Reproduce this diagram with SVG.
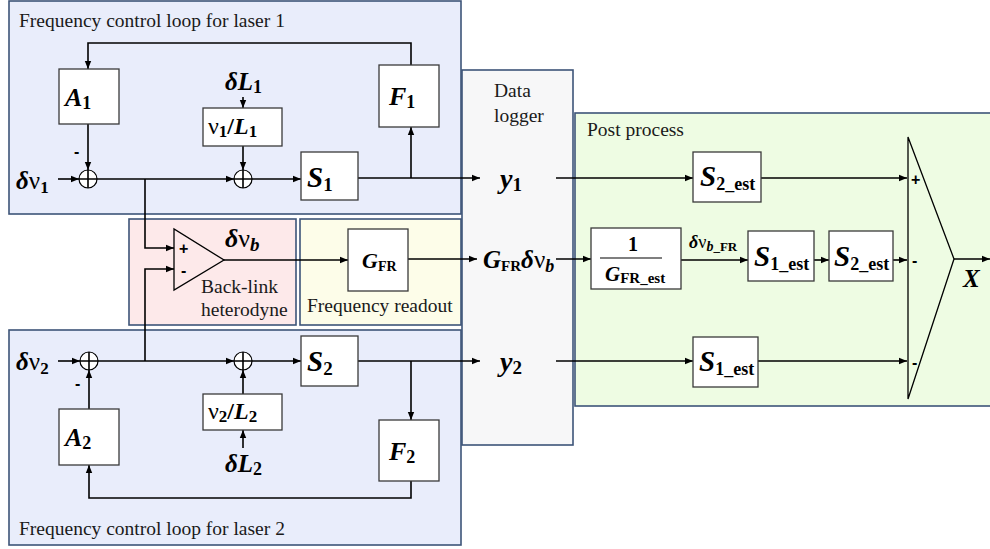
<svg xmlns="http://www.w3.org/2000/svg" width="990" height="549" viewBox="0 0 990 549">
  <defs>
    <marker id="arr" viewBox="0 0 10 10" refX="10" refY="5" markerWidth="8" markerHeight="8" markerUnits="userSpaceOnUse" orient="auto">
      <path d="M0,1 L10,5 L0,9 Z" fill="#000"/>
    </marker>
    <style>
      .panel { stroke: #3d5478; stroke-width: 1.6; }
      .laser { fill: #e9edfb; }
      .het { fill: #fde9ea; }
      .fr { fill: #fdfde9; }
      .log { fill: #f7f7f8; }
      .post { fill: #eefce3; }
      .blk { fill: #ffffff; stroke: #3a3a3a; stroke-width: 1.3; }
      .wire { fill: none; stroke: #000; stroke-width: 1.6; }
      .arw { marker-end: url(#arr); }
      .lbl { font-family: "Liberation Serif", "Times New Roman", serif; font-size: 19.5px; fill: #1a1a1a; }
      .m { font-family: "Liberation Serif", "Times New Roman", serif; font-weight: bold; font-style: italic; fill: #000; }
      .up { font-style: normal; }
      .nu { font-style: normal; font-weight: normal; }
      .sgn { font-family: "Liberation Sans", Arial, sans-serif; font-weight: bold; font-size: 16px; fill: #000; }
      .sum { fill: #fff; stroke: #000; stroke-width: 1.2; }
    </style>
  </defs>

  <!-- background panels -->
  <g id="panel-laser1">
    <rect class="panel laser" x="9" y="1" width="452" height="213"/>
    <text class="lbl" x="19" y="27">Frequency control loop for laser 1</text>
  </g>
  <g id="panel-laser2">
    <rect class="panel laser" x="9" y="330" width="452" height="215"/>
    <text class="lbl" x="19" y="535">Frequency control loop for laser 2</text>
  </g>
  <g id="panel-heterodyne">
    <rect class="panel het" x="129" y="219" width="167" height="106"/>
    <text class="lbl" x="201" y="293">Back-link</text>
    <text class="lbl" x="201" y="316">heterodyne</text>
  </g>
  <g id="panel-readout">
    <rect class="panel fr" x="300" y="219" width="161" height="106"/>
    <text class="lbl" x="307" y="312">Frequency readout</text>
  </g>
  <g id="panel-logger">
    <rect class="panel log" x="462" y="70" width="111" height="375"/>
    <text class="lbl" x="494" y="97">Data</text>
    <text class="lbl" x="494" y="122">logger</text>
  </g>
  <g id="panel-post">
    <rect class="panel post" x="575" y="113" width="420" height="293"/>
    <text class="lbl" x="587" y="136">Post process</text>
  </g>

  <!-- connectors -->
  <g id="connectors">
    <!-- laser 1 loop -->
    <line class="wire arw" x1="58" y1="179" x2="79" y2="179"/>
    <line class="wire arw" x1="97" y1="179" x2="234" y2="179"/>
    <line class="wire arw" x1="252" y1="179" x2="301" y2="179"/>
    <line class="wire arw" x1="358" y1="178" x2="480" y2="178"/>
    <line class="wire arw" x1="411" y1="178" x2="411" y2="127"/>
    <polyline class="wire arw" points="411,65 411,43 88,43 88,69"/>
    <line class="wire arw" x1="88" y1="124" x2="88" y2="170"/>
    <line class="wire arw" x1="243" y1="97" x2="243" y2="108"/>
    <line class="wire arw" x1="243" y1="146" x2="243" y2="170"/>
    <polyline class="wire arw" points="145,179 145,248 174,248"/>

    <!-- laser 2 loop -->
    <line class="wire arw" x1="58" y1="361" x2="80" y2="361"/>
    <line class="wire arw" x1="98" y1="361" x2="234" y2="361"/>
    <line class="wire arw" x1="252" y1="361" x2="301" y2="361"/>
    <line class="wire arw" x1="358" y1="361" x2="480" y2="361"/>
    <line class="wire arw" x1="411" y1="361" x2="411" y2="420"/>
    <polyline class="wire arw" points="411,481 411,498 89,498 89,465"/>
    <line class="wire arw" x1="89" y1="409" x2="89" y2="370"/>
    <line class="wire arw" x1="243" y1="448" x2="243" y2="430"/>
    <line class="wire arw" x1="243" y1="394" x2="243" y2="370"/>
    <polyline class="wire arw" points="145,361 145,269 174,269"/>

    <!-- heterodyne and readout -->
    <line class="wire arw" x1="224" y1="260" x2="348" y2="260"/>
    <line class="wire arw" x1="408" y1="259" x2="477" y2="259"/>

    <!-- post process -->
    <line class="wire arw" x1="556" y1="178" x2="693" y2="178"/>
    <line class="wire arw" x1="761" y1="178" x2="907" y2="178"/>
    <line class="wire arw" x1="556" y1="259" x2="591" y2="259"/>
    <line class="wire arw" x1="681" y1="260" x2="748" y2="260"/>
    <line class="wire arw" x1="814" y1="260" x2="829" y2="260"/>
    <line class="wire arw" x1="893" y1="260" x2="907" y2="260"/>
    <line class="wire arw" x1="556" y1="361" x2="693" y2="361"/>
    <line class="wire arw" x1="758" y1="361" x2="907" y2="361"/>
    <line class="wire arw" x1="954" y1="259" x2="990" y2="259"/>
  </g>

  <!-- laser 1 blocks -->
  <g id="in-dv1">
    <text class="m" x="16" y="189" font-size="25">δ<tspan class="nu">ν</tspan><tspan class="up" font-size="17" dy="4">1</tspan></text>
  </g>
  <g id="sum1-1">
    <circle class="sum" cx="88" cy="179" r="9"/>
    <path class="wire" d="M79,179 H97 M88,170 V188" stroke-width="1.1"/>
    <text class="sgn" x="74" y="157">-</text>
  </g>
  <g id="sum1-2">
    <circle class="sum" cx="243" cy="179" r="9"/>
    <path class="wire" d="M234,179 H252 M243,170 V188" stroke-width="1.1"/>
  </g>
  <g id="A1">
    <rect class="blk" x="59" y="69" width="60" height="55"/>
    <text class="m" x="65" y="106" font-size="26">A<tspan class="up" font-size="18" dy="3">1</tspan></text>
  </g>
  <g id="F1">
    <rect class="blk" x="379" y="65" width="60" height="62"/>
    <text class="m" x="389" y="105" font-size="26">F<tspan class="up" font-size="18" dy="3">1</tspan></text>
  </g>
  <g id="dL1">
    <text class="m" x="225" y="90" font-size="25">δL<tspan class="up" font-size="18" dy="3">1</tspan></text>
  </g>
  <g id="nuL1">
    <rect class="blk" x="203" y="108" width="79" height="38"/>
    <text class="m" x="208" y="134" font-size="24"><tspan class="nu">ν</tspan><tspan class="up" font-size="17" dy="3">1</tspan><tspan class="up" dy="-3">/</tspan>L<tspan class="up" font-size="17" dy="3">1</tspan></text>
  </g>
  <g id="S1">
    <rect class="blk" x="301" y="152" width="57" height="48"/>
    <text class="m" x="307" y="187" font-size="29">S<tspan class="up" font-size="19" dy="4">1</tspan></text>
  </g>

  <!-- heterodyne -->
  <g id="heterodyne">
    <polygon points="174,229 174,290 224,260" fill="none" stroke="#000" stroke-width="1.3"/>
    <text class="sgn" x="179" y="254" font-size="14">+</text>
    <text class="sgn" x="181" y="276">-</text>
    <text class="m" x="225" y="247" font-size="26">δ<tspan class="nu">ν</tspan><tspan font-size="19" dy="4">b</tspan></text>
  </g>
  <g id="GFR">
    <rect class="blk" x="348" y="229" width="60" height="62"/>
    <text class="m" x="362" y="268" font-size="22">G<tspan class="up" font-size="14" dy="3">FR</tspan></text>
  </g>

  <!-- laser 2 blocks -->
  <g id="in-dv2">
    <text class="m" x="16" y="370" font-size="25">δ<tspan class="nu">ν</tspan><tspan class="up" font-size="17" dy="4">2</tspan></text>
  </g>
  <g id="sum2-1">
    <circle class="sum" cx="89" cy="361" r="9"/>
    <path class="wire" d="M80,361 H98 M89,352 V370" stroke-width="1.1"/>
    <text class="sgn" x="75" y="389">-</text>
  </g>
  <g id="sum2-2">
    <circle class="sum" cx="243" cy="361" r="9"/>
    <path class="wire" d="M234,361 H252 M243,352 V370" stroke-width="1.1"/>
  </g>
  <g id="A2">
    <rect class="blk" x="59" y="409" width="60" height="56"/>
    <text class="m" x="65" y="446" font-size="26">A<tspan class="up" font-size="18" dy="3">2</tspan></text>
  </g>
  <g id="F2">
    <rect class="blk" x="379" y="420" width="60" height="61"/>
    <text class="m" x="389" y="460" font-size="26">F<tspan class="up" font-size="18" dy="3">2</tspan></text>
  </g>
  <g id="nuL2">
    <rect class="blk" x="203" y="394" width="79" height="36"/>
    <text class="m" x="208" y="419" font-size="24"><tspan class="nu">ν</tspan><tspan class="up" font-size="17" dy="3">2</tspan><tspan class="up" dy="-3">/</tspan>L<tspan class="up" font-size="17" dy="3">2</tspan></text>
  </g>
  <g id="dL2">
    <text class="m" x="225" y="472" font-size="25">δL<tspan class="up" font-size="18" dy="3">2</tspan></text>
  </g>
  <g id="S2">
    <rect class="blk" x="301" y="336" width="57" height="50"/>
    <text class="m" x="307" y="371" font-size="29">S<tspan class="up" font-size="19" dy="4">2</tspan></text>
  </g>

  <!-- data logger contents -->
  <g id="y1">
    <text class="m" x="500" y="188" font-size="28">y<tspan class="up" font-size="19" dy="3">1</tspan></text>
  </g>
  <g id="GFRdvb">
    <text class="m" x="483" y="268" font-size="25">G<tspan class="up" font-size="15" dy="3">FR</tspan><tspan dy="-3">δ</tspan><tspan class="nu">ν</tspan><tspan font-size="18" dy="4">b</tspan></text>
  </g>
  <g id="y2">
    <text class="m" x="500" y="371" font-size="28">y<tspan class="up" font-size="19" dy="3">2</tspan></text>
  </g>

  <!-- post process blocks -->
  <g id="S2est-a">
    <rect class="blk" x="693" y="152" width="68" height="50"/>
    <text class="m" x="700" y="186" font-size="29">S<tspan class="up" font-size="18" dy="4">2_est</tspan></text>
  </g>
  <g id="invGFR">
    <rect class="blk" x="591" y="228" width="90" height="61"/>
    <text class="m up" x="633" y="251" font-size="20" text-anchor="middle">1</text>
    <line x1="600" y1="258" x2="662" y2="258" stroke="#000" stroke-width="1.2"/>
    <text class="m" x="605" y="281" font-size="21">G<tspan class="up" font-size="15" dy="2">FR_est</tspan></text>
  </g>
  <g id="dvbFR">
    <text class="m" x="689" y="248" font-size="18">δ<tspan class="nu">ν</tspan><tspan font-size="14" dy="3">b</tspan><tspan class="up" font-size="13">_FR</tspan></text>
  </g>
  <g id="S1est-b">
    <rect class="blk" x="748" y="231" width="66" height="50"/>
    <text class="m" x="754" y="266" font-size="29">S<tspan class="up" font-size="18" dy="4">1_est</tspan></text>
  </g>
  <g id="S2est-b">
    <rect class="blk" x="829" y="231" width="64" height="50"/>
    <text class="m" x="834" y="266" font-size="29">S<tspan class="up" font-size="18" dy="4">2_est</tspan></text>
  </g>
  <g id="S1est-c">
    <rect class="blk" x="693" y="337" width="65" height="50"/>
    <text class="m" x="699" y="371" font-size="29">S<tspan class="up" font-size="18" dy="4">1_est</tspan></text>
  </g>
  <g id="summer">
    <polygon points="908,137 954,259 908,399" fill="none" stroke="#000" stroke-width="1.3"/>
    <text class="sgn" x="911" y="185" font-size="14">+</text>
    <text class="sgn" x="912" y="266">-</text>
    <text class="sgn" x="912" y="368">-</text>
    <text class="m" x="963" y="287" font-size="25">X</text>
  </g>
</svg>
